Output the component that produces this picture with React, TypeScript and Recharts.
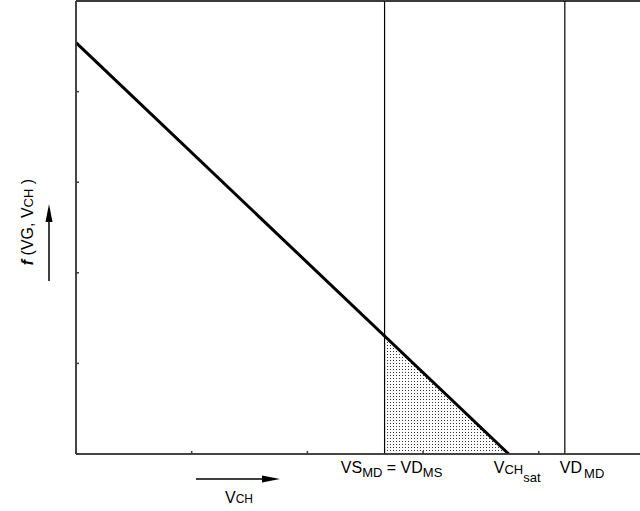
import React from 'react';
import {
  ComposedChart,
  Line,
  Area,
  XAxis,
  YAxis,
  ReferenceLine,
  ReferenceDot,
} from 'recharts';

// f(VG, VCH) falls linearly with VCH until it hits zero at VCH_sat
const lineX = [0, 3.74];
const lineY = [4.54, 0];
// shaded part: from VS_MD = VD_MS up to VCH_sat
const shadeX = [2.667, 3.74];
const shadeY = [1.303, 0];
const vsmdX = 2.667;
const vdmdX = 4.225;
const satX = 3.74;
const xTicks = [0, 1, 2, 3, 4, 5];
const yTicks = [0, 1, 2, 3, 4, 5];

const lineData = lineX.map((x, i) => ({ x, f: lineY[i] }));
const shadeData = shadeX.map((x, i) => ({ x, s: shadeY[i] }));

const FONT = '"Liberation Sans", Arial, sans-serif';

function VsLabel({ viewBox }: any) {
  const x = viewBox.x + 7;
  const y = viewBox.y + viewBox.height + 19;
  return (
    <text x={x} y={y} textAnchor="middle" fontFamily={FONT} fontSize={16} fill="#000">
      VS
      <tspan fontSize={13} dy={4}>MD</tspan>
      <tspan dy={-4}> = VD</tspan>
      <tspan fontSize={13} dy={4}>MS</tspan>
    </text>
  );
}

function VdLabel({ viewBox }: any) {
  const x = viewBox.x - 5;
  const y = viewBox.y + viewBox.height + 19;
  return (
    <text x={x} y={y} fontFamily={FONT} fontSize={16} fill="#000">
      VD
      <tspan fontSize={13} dx={2} dy={5}>MD</tspan>
    </text>
  );
}

function SatLabel({ viewBox }: any) {
  const x = viewBox.x - 15;
  const y = viewBox.y + 19;
  return (
    <text x={x} y={y} fontFamily={FONT} fontSize={16} fill="#000">
      V
      <tspan fontSize={13} dy={1}>CH</tspan>
      <tspan fontSize={13} dy={8}>sat</tspan>
    </text>
  );
}

export default function App() {
  return (
    <div style={{ position: 'absolute', left: 0, top: 0, width: 640, height: 511, overflow: 'hidden', background: '#fff' }}>
      <ComposedChart
        width={660}
        height={511}
        margin={{ top: 1, right: 5.5, left: 76, bottom: 57 }}
      >
        <defs>
          <pattern id="stipple" width={3} height={3} patternUnits="userSpaceOnUse">
            <rect x={0} y={0} width={1} height={1} fill="#333" />
          </pattern>
        </defs>
        <XAxis
          type="number"
          dataKey="x"
          domain={[0, 5]}
          ticks={xTicks}
          allowDataOverflow
          height={1}
          mirror
          tickSize={3}
          tickFormatter={() => ''}
          stroke="#3a3a3a"
          strokeWidth={1.5}
        />
        <YAxis
          type="number"
          domain={[0, 5]}
          ticks={yTicks}
          allowDataOverflow
          width={1}
          mirror
          tickSize={3}
          tickFormatter={() => ''}
          stroke="#3a3a3a"
          strokeWidth={1.5}
        />
        <ReferenceLine y={5} stroke="#3a3a3a" strokeWidth={2} />
        <ReferenceLine x={0} stroke="#3a3a3a" strokeWidth={1.5} />
        <ReferenceLine y={0} stroke="#3a3a3a" strokeWidth={1.5} />
        <Area
          data={shadeData}
          dataKey="s"
          type="linear"
          stroke="none"
          fill="url(#stipple)"
          fillOpacity={1}
          isAnimationActive={false}
        />
        <ReferenceLine x={vsmdX} stroke="#000" strokeWidth={1.2} label={<VsLabel />} />
        <ReferenceLine x={vdmdX} stroke="#000" strokeWidth={1.2} label={<VdLabel />} />
        <ReferenceDot x={satX} y={0} r={0} stroke="none" fill="none" label={<SatLabel />} />
        <Line
          data={lineData}
          dataKey="f"
          type="linear"
          stroke="#000"
          strokeWidth={3}
          dot={false}
          isAnimationActive={false}
        />
      </ComposedChart>
      <svg width={640} height={511} style={{ position: 'absolute', left: 0, top: 0, pointerEvents: 'none' }}>
        <text transform="translate(33, 222) rotate(-90)" textAnchor="middle" fontFamily={FONT} fontSize={16} fill="#000">
          <tspan fontStyle="italic" fontWeight="bold">f</tspan>
          <tspan> (VG, V</tspan>
          <tspan fontSize={13}>CH</tspan>
          <tspan> )</tspan>
        </text>
        <line x1={49} y1={281} x2={49} y2={218} stroke="#000" strokeWidth={1.5} />
        <polygon points="49,204 45.5,222 52.5,222" fill="#000" />
        <line x1={196} y1={479} x2={266} y2={479} stroke="#000" strokeWidth={1.5} />
        <polygon points="280,479 262,475.5 262,482.5" fill="#000" />
        <text x={225} y={503} fontFamily={FONT} fontSize={16} fill="#000">
          V<tspan fontSize={12}>CH</tspan>
        </text>
      </svg>
    </div>
  );
}
